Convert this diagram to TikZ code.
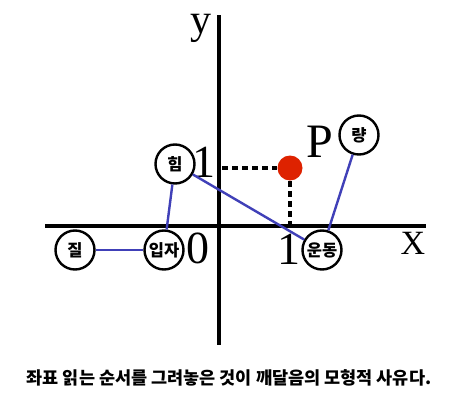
\documentclass[tikz,border=0pt]{standalone}
\usepackage{fontspec}
\setmainfont{Liberation Serif}
\newfontfamily\kor{Noto Sans CJK KR}
\usetikzlibrary{positioning}
\definecolor{linkblue}{RGB}{64,64,184}
\definecolor{dotred}{RGB}{222,34,0}

\begin{document}
\begin{tikzpicture}[x=1pt,y=-1pt,thick,
main node/.style={circle,draw,line width=2.4pt,fill=white,minimum size=39pt,inner sep=0pt,font=\kor\bfseries\fontsize{16.5}{16.5}\selectfont},
big label/.style={font=\fontsize{46}{46}\selectfont,inner sep=0pt}]
\useasboundingbox[fill=white] (0,0) rectangle (459,407);

% axes
\coordinate (xl) at (45,226);
\coordinate (xr) at (426,226);
\coordinate (yt) at (219,15);
\coordinate (yb) at (219,345);
\draw[line width=3.6pt] (xl) -- (xr);
\draw[line width=3.6pt] (yt) -- (yb);

\node[big label,font=\fontsize{42}{42}\selectfont] (y) at (201,28) {y};
\node[big label,font=\fontsize{34}{34}\selectfont] (x) at (413,243) {X};
\node[big label] (o) at (198,248) {0};
\node[big label] (one x) at (289,249) {1};
\node[big label] (one y) at (204,162) {1};

% point P
\node[circle,fill=dotred,minimum size=25pt,inner sep=0pt] (p) at (290,168) {};
\node[big label,font=\fontsize{48}{48}\selectfont] (plabel) at (320,142) {P};
\coordinate (py) at (222,168);
\coordinate (px) at (290,226);
\draw[line width=3.2pt,dash pattern=on 6pt off 4pt] (py) -- (p);
\draw[line width=3.2pt,dash pattern=on 6pt off 4pt] (p) -- (px);

\node[main node] (jil) at (75,250) {질};
\node[main node] (ipja) at (164,250) {입자};
\node[main node] (him) at (175,164) {힘};
\node[main node] (undong) at (322,250) {운동};
\node[main node] (ryang) at (359,135) {량};

\path[every edge/.style={draw,linkblue,line width=2.4pt}]
(jil) edge (ipja)
(ipja) edge (him)
(him) edge (undong)
(undong) edge (ryang);

\node[font=\kor\bfseries\fontsize{17.5}{17.5}\selectfont] (caption) at (229,378) {좌표 읽는 순서를 그려놓은 것이 깨달음의 모형적 사유다.};
\end{tikzpicture}
\end{document}
